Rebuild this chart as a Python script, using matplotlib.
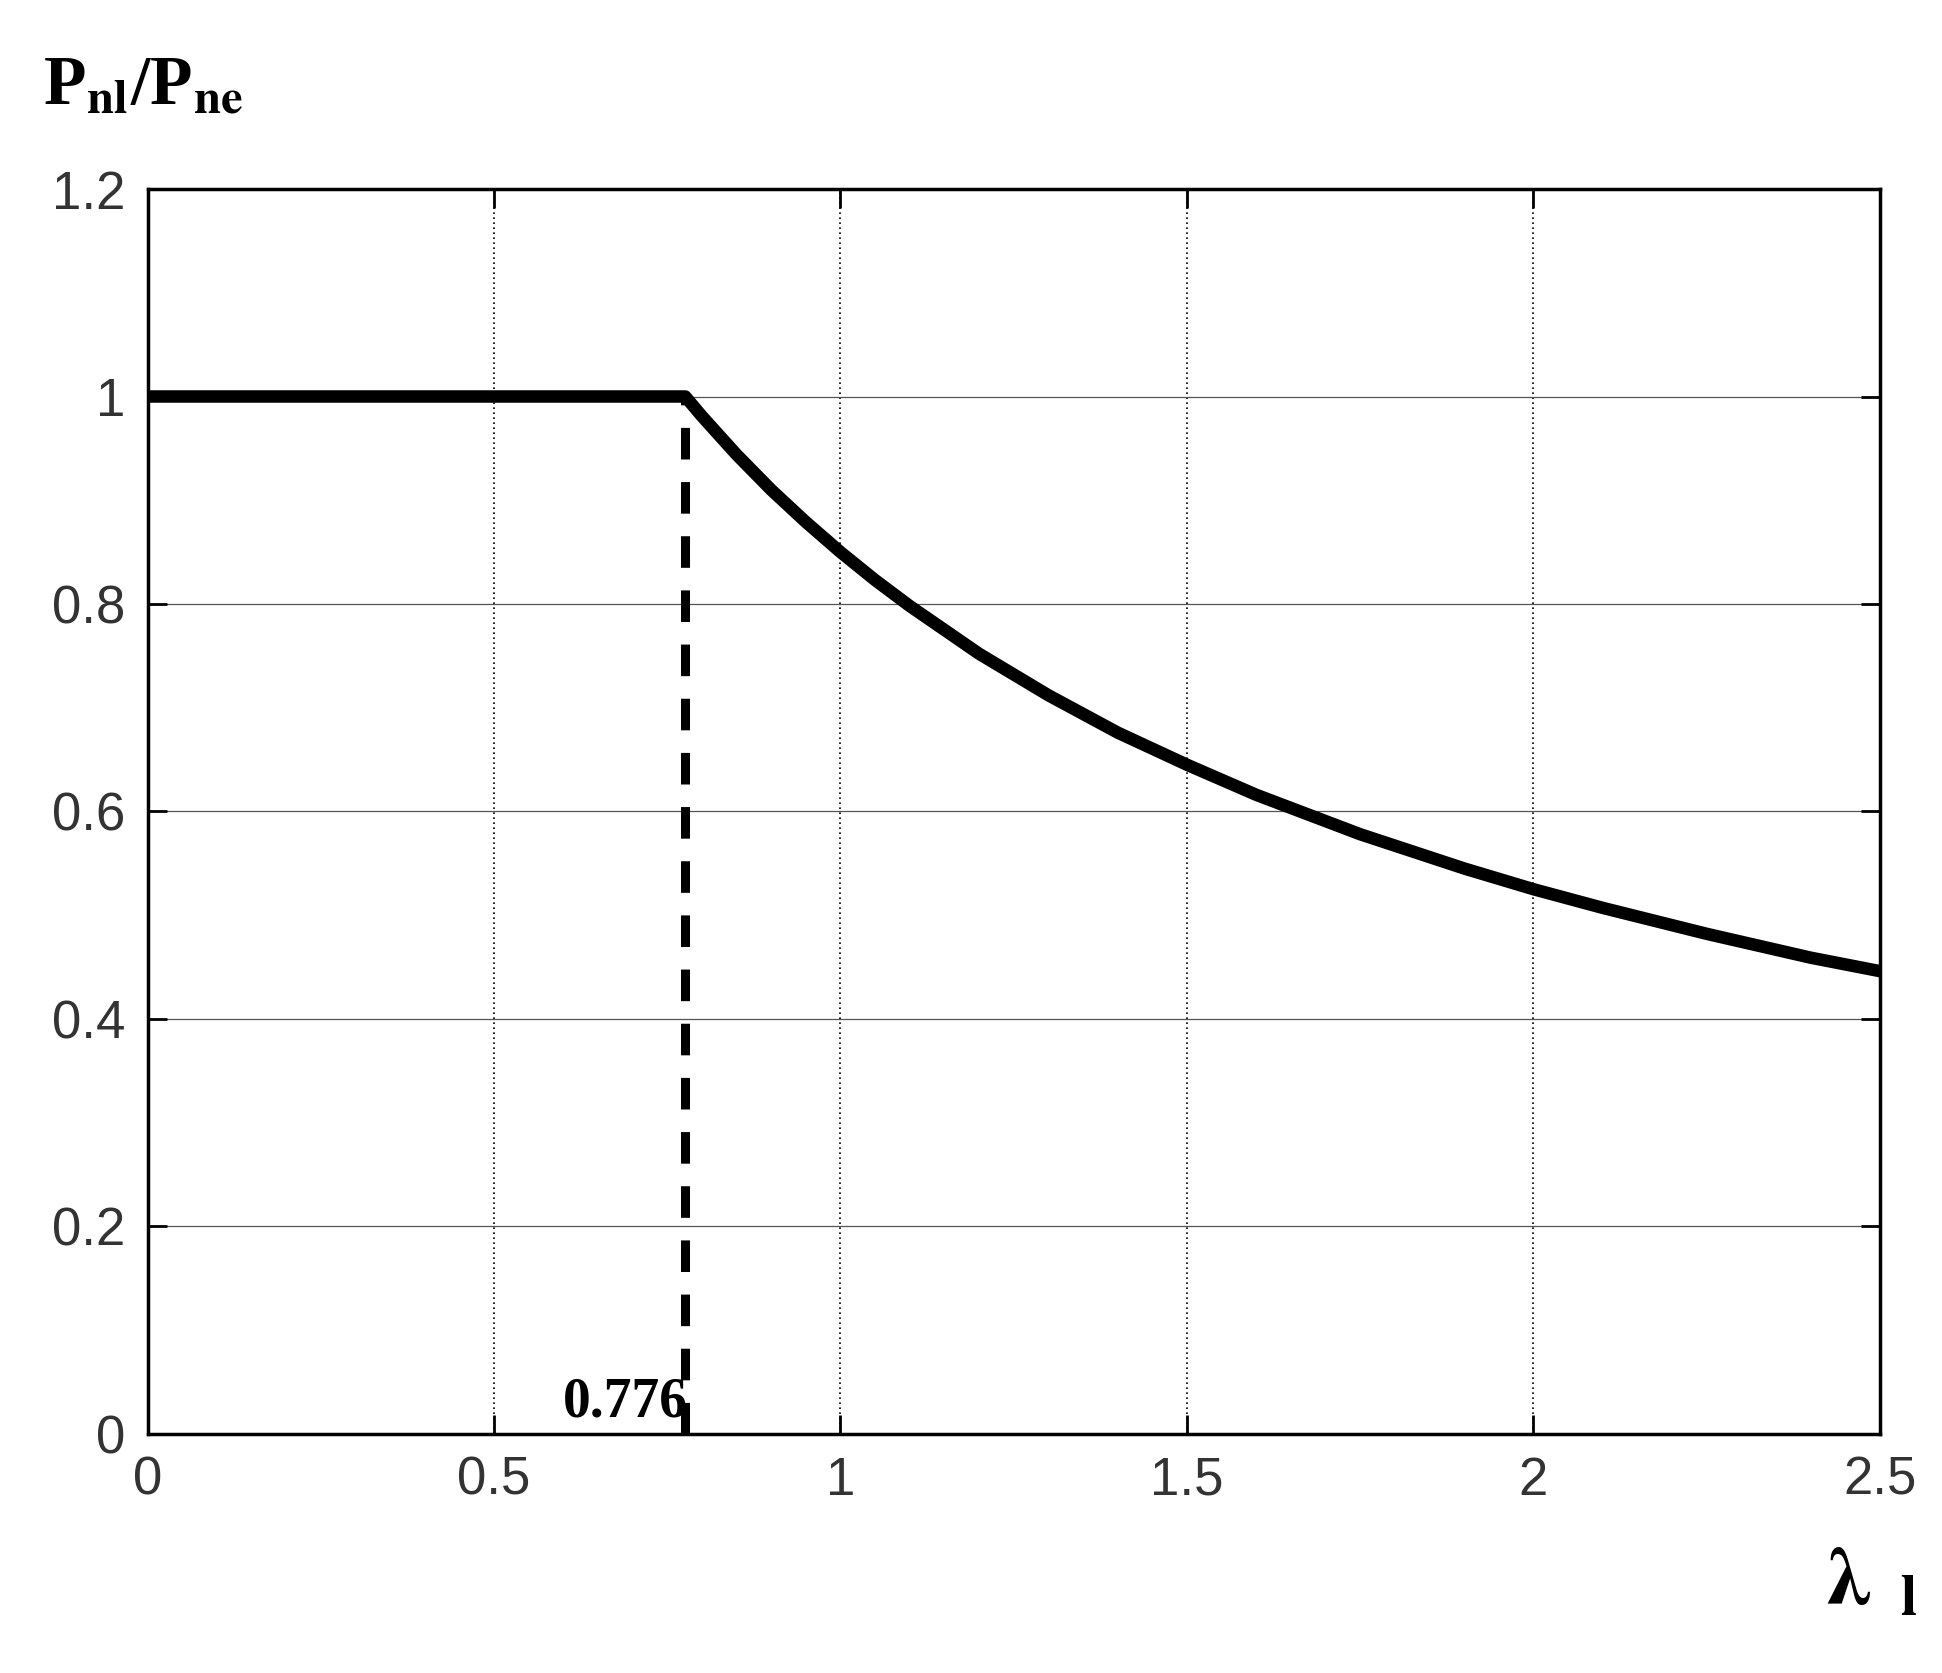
import matplotlib
matplotlib.use("Agg")
import matplotlib.pyplot as plt
plt.rcParams["mathtext.fontset"] = "stix"

lam_flat = [0.0, 0.776]
p_flat = [1.0, 1.0]
lam_curve = [0.776, 0.8, 0.85, 0.9, 0.95, 1.0, 1.05, 1.1, 1.2, 1.25, 1.3, 1.4, 1.5, 1.6,
             1.75, 1.9, 2.0, 2.1, 2.25, 2.4, 2.5]
p_curve = [1.0, 0.981, 0.944, 0.910, 0.879, 0.850, 0.823, 0.798, 0.752, 0.732, 0.712, 0.676,
           0.645, 0.616, 0.578, 0.545, 0.525, 0.507, 0.482, 0.459, 0.446]
lam_limit = 0.776
xticks = [0, 0.5, 1, 1.5, 2, 2.5]
xticklabels = ["0", "0.5", "1", "1.5", "2", "2.5"]
yticks = [0, 0.2, 0.4, 0.6, 0.8, 1.0, 1.2]
yticklabels = ["0", "0.2", "0.4", "0.6", "0.8", "1", "1.2"]

fig = plt.figure(figsize=(19.42, 16.73), dpi=100)
ax = fig.add_axes([0.076, 0.143, 0.892, 0.744])
ax.plot(lam_flat + lam_curve[1:], p_flat + p_curve[1:], color="black", lw=9,
        solid_capstyle="round", solid_joinstyle="round", zorder=3)
ax.plot([lam_limit, lam_limit], [0, 1.0], color="black", lw=6.5, ls=(0, (3.5, 2.5)), zorder=3)
ax.set_xlim(0, 2.5)
ax.set_ylim(0, 1.2)
ax.set_xticks(xticks)
ax.set_xticklabels(xticklabels)
ax.set_yticks(yticks)
ax.set_yticklabels(yticklabels)
for x in xticks[1:-1]:
    ax.axvline(x, color="black", lw=1.2, ls=(0, (1, 2)), zorder=1)
for y in yticks[1:-1]:
    ax.axhline(y, color="#555555", lw=0.9, zorder=1)
ax.tick_params(direction="in", length=14, width=2, top=True, right=True,
               labelsize=38, labelcolor="#333333", pad=16)
for lab in ax.get_xticklabels() + ax.get_yticklabels():
    lab.set_family("Liberation Sans")
for s in ax.spines.values():
    s.set_linewidth(2.5)
ax.text(0.69, 0.005, "0.776", fontsize=40, fontweight="bold", family="Liberation Serif",
        ha="center", va="bottom")
fig.text(0.022, 0.948, r"P$_{\mathbf{nl}}$/P$_{\mathbf{ne}}$", fontsize=50, fontweight="bold",
         family="Liberation Serif", ha="left", va="center")
fig.text(0.94, 0.055, r"$\mathbf{\lambda}$ $_{\mathbf{l}}$", fontsize=60, fontweight="bold",
         ha="left", va="center")
fig.savefig("out.png", dpi=100, facecolor="white")
